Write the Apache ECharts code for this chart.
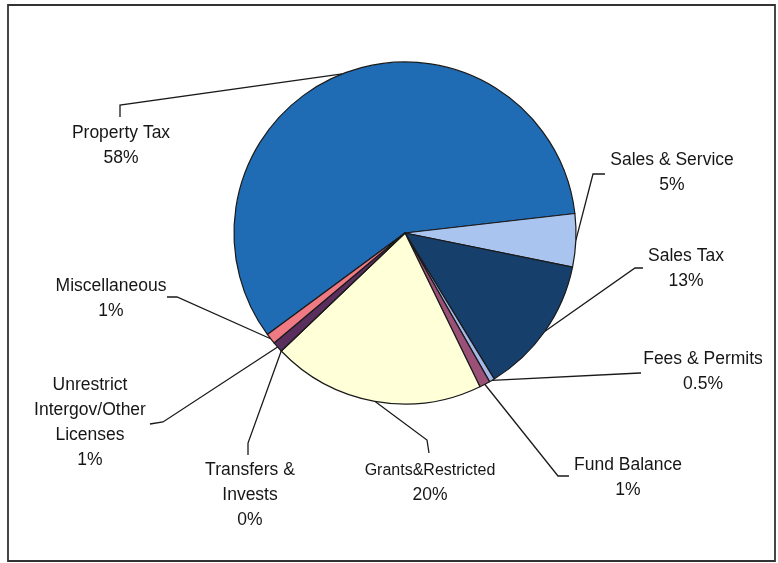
<!DOCTYPE html>
<html>
<head>
<meta charset="utf-8">
<script src="https://cdn.jsdelivr.net/npm/echarts@6/dist/echarts.min.js"></script>
<style>
  html, body { margin: 0; padding: 0; background: #fff; }
  #chart { width: 778px; height: 563px; }
</style>
</head>
<body>
<div id="chart"></div>
<script>
// Revenue sources, percent of total
const categories = [
  'Property Tax',
  'Sales & Service',
  'Sales Tax',
  'Fees & Permits',
  'Fund Balance',
  'Grants&Restricted',
  'Transfers &\nInvests',
  'Unrestrict\nIntergov/Other\nLicenses',
  'Miscellaneous'
];
const percents = [58, 5, 13, 0.5, 1, 20, 0, 1, 1];

const sliceColors = [
  '#1F6CB5', '#A9C4EF', '#163F6C', '#A3B8E9', '#9B5078',
  '#FFFFD8', '#6A4A7A', '#5A2F5E', '#EF7A84'
];

// Label placement: text centre, leader elbow and leader end, per slice
const labelAnchors = [
  { text: [121, 146], elbow: [120, 105], end: [120, 117] },
  { text: [672, 173], elbow: [593, 174], end: [605, 174] },
  { text: [686, 269], elbow: [635, 268], end: [643, 268] },
  { text: [703, 372], elbow: [640, 373], end: [641, 373] },
  { text: [628, 478], elbow: [558, 476], end: [569, 476] },
  { text: [430, 483], elbow: [427, 440], end: [429, 453] },
  { text: [250, 495], elbow: [248, 443], end: [248, 455] },
  { text: [90, 423],  elbow: [163, 422], end: [150, 424] },
  { text: [111, 299], elbow: [177, 297], end: [167, 297] }
];

const chart = echarts.init(document.getElementById('chart'), null, { renderer: 'canvas' });

const data = categories.map((name, i) => ({
  name: name,
  value: percents[i],
  itemStyle: { color: sliceColors[i] }
}));

const FONT = 'Liberation Sans, Arial, sans-serif';

chart.setOption({
  backgroundColor: '#ffffff',
  animation: false,
  graphic: [{
    type: 'rect',
    shape: { x: 8, y: 5, width: 767, height: 556 },
    style: { fill: 'none', stroke: '#333333', lineWidth: 1.8 },
    silent: true
  }],
  series: [{
    type: 'pie',
    center: [405, 233],
    radius: 171,
    startAngle: 216.4,
    clockwise: true,
    avoidLabelOverlap: false,
    silent: true,
    data: data,
    itemStyle: { borderColor: '#1a1a1a', borderWidth: 1.2 },
    label: {
      show: true,
      position: 'outside',
      fontFamily: FONT,
      fontSize: 17.5,
      color: '#161616',
      lineHeight: 25,
      align: 'center',
      formatter: function (p) {
        if (p.name === 'Grants&Restricted') {
          return '{n|' + p.name + '}\n{v|' + p.value + '%}';
        }
        return p.name.split('\n').map(s => '{v|' + s + '}').join('\n') + '\n{v|' + p.value + '%}';
      },
      rich: {
        n: { fontFamily: FONT, fontSize: 16, lineHeight: 25, color: '#161616', align: 'center' },
        v: { fontFamily: FONT, fontSize: 17.5, lineHeight: 25, color: '#161616', align: 'center' }
      }
    },
    labelLine: {
      show: true,
      length: 10,
      length2: 10,
      lineStyle: { color: '#1a1a1a', width: 1.3 }
    },
    labelLayout: function (params) {
      const a = labelAnchors[params.dataIndex];
      const pts = params.labelLinePoints;
      const start = pts && pts[0] ? pts[0] : a.elbow;
      return {
        x: a.text[0],
        y: a.text[1],
        align: 'center',
        verticalAlign: 'middle',
        labelLinePoints: [start, a.elbow, a.end]
      };
    }
  }]
});
</script>
</body>
</html>
